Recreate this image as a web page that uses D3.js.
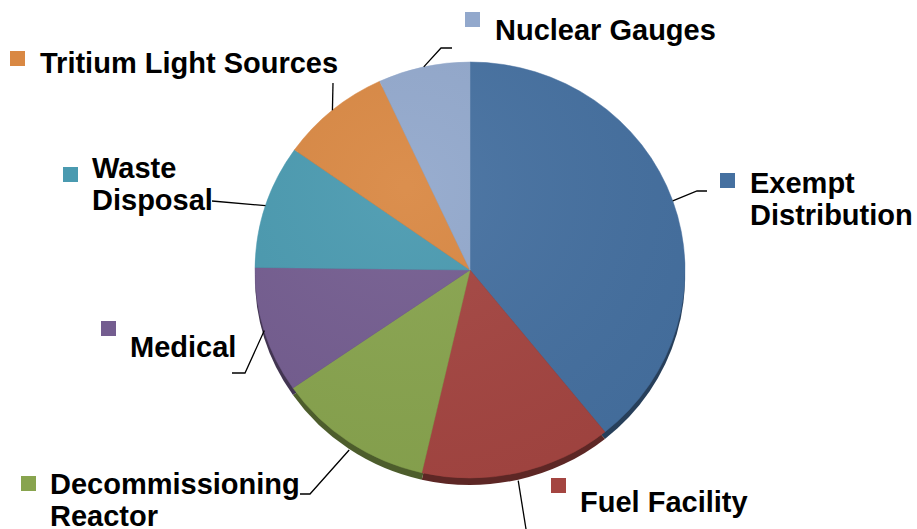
<html>
<style>
  body { margin: 0; background: #fff; }
  text { font-family: "Liberation Sans", Arimo, Arial, sans-serif; font-weight: bold; fill: #000; }
</style>
<body>
<script src="https://d3js.org/d3.v7.min.js"></script>
<script>
// slice data, clockwise from 12 o'clock
const categories = ["Exempt Distribution", "Fuel Facility", "Decommissioning Reactor", "Medical",
                    "Waste Disposal", "Tritium Light Sources", "Nuclear Gauges"]
const values = [39.2, 14.4, 11.8, 9.8, 9.6, 8.3, 6.9]
const colors = ["#4570A0", "#A44541", "#88A44E", "#745D90", "#4A9AB0", "#D98843", "#92A8CC"]

// label layout: legend square + text lines + leader elbow
const labelLayout = [
  {sq: [720, 173], tx: 750, lines: ["Exempt", "Distribution"], base: 193, elbow: [[697, 191], [707, 191]]},
  {sq: [551, 478], tx: 580, lines: ["Fuel Facility"], base: 512, elbow: [[526, 529]]},
  {sq: [21, 476], tx: 50, lines: ["Decommissioning", "Reactor"], base: 494, elbow: [[310, 494], [300, 494]]},
  {sq: [101, 321], tx: 130, lines: ["Medical"], base: 357, elbow: [[245, 373], [232, 373]]},
  {sq: [63, 167], tx: 92, lines: ["Waste", "Disposal"], base: 178, elbow: [[212, 201]]},
  {sq: [10, 51], tx: 40, lines: ["Tritium Light Sources"], base: 73, elbow: [[333, 83]]},
  {sq: [465, 12], tx: 495, lines: ["Nuclear Gauges"], base: 40, elbow: [[441, 48], [452, 48]]}
]

const W = 917, H = 529
const cx = 470, cy = 270, rx = 215, ry = 208, depth = 7

const svg = d3.select("body").append("svg")
    .attr("width", W).attr("height", H)

const pie = d3.pie().sort(null).value(d => d)
const arcs = pie(values)
const arc = d3.arc().innerRadius(0).outerRadius(rx)

// shading for the top face
const defs = svg.append("defs")
const grad = defs.append("radialGradient").attr("id", "shade")
    .attr("cx", "35%").attr("cy", "30%").attr("r", "80%")
grad.append("stop").attr("offset", "0%").attr("stop-color", "#fff").attr("stop-opacity", 0.06)
grad.append("stop").attr("offset", "100%").attr("stop-color", "#000").attr("stop-opacity", 0.04)

// extrusion (side)
const sideG = svg.append("g")
    .attr("transform", `translate(${cx},${cy + depth}) scale(1,${ry / rx})`)
sideG.selectAll("path")
    .data(arcs)
    .join("path")
    .attr("d", arc)
    .attr("fill", (d, i) => d3.color(colors[i]).darker(1.6))

const faceG = svg.append("g")
    .attr("transform", `translate(${cx},${cy}) scale(1,${ry / rx})`)
faceG.selectAll("path.slice")
    .data(arcs)
    .join("path")
    .attr("class", "slice")
    .attr("d", arc)
    .attr("fill", (d, i) => colors[i])
    .attr("stroke", (d, i) => colors[i])
    .attr("stroke-width", 0.5)
faceG.append("ellipse").attr("rx", rx).attr("ry", rx).attr("fill", "url(#shade)")

// leader lines and labels
const labels = svg.append("g")
arcs.forEach((d, i) => {
  const L = labelLayout[i]
  const a = (d.startAngle + d.endAngle) / 2
  const sx = cx + rx * Math.sin(a)
  let sy = cy - ry * Math.cos(a)
  if (Math.cos(a) < -0.5) sy += depth + 1
  const pts = [[sx, sy], ...L.elbow]
  labels.append("path")
      .attr("d", d3.line()(pts))
      .attr("fill", "none")
      .attr("stroke", "#000")
      .attr("stroke-width", 1.3)
  labels.append("rect")
      .attr("x", L.sq[0]).attr("y", L.sq[1])
      .attr("width", 15).attr("height", 15)
      .attr("fill", colors[i])
  L.lines.forEach((t, k) => {
    labels.append("text")
        .attr("x", L.tx).attr("y", L.base + k * 32)
        .attr("font-size", 29)
        .text(t)
  })
})
</script>
</body>
</html>
